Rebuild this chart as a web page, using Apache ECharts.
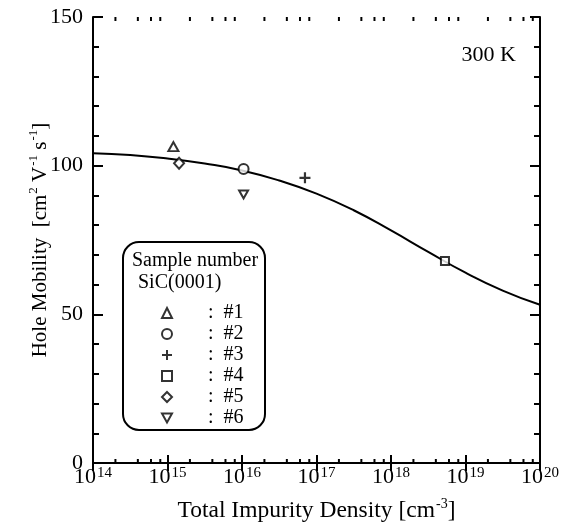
<!DOCTYPE html>
<html>
<head>
<meta charset="utf-8">
<script src="https://cdn.jsdelivr.net/npm/echarts@6/dist/echarts.min.js"></script>
<style>
html,body{margin:0;padding:0;background:#fff;}
#chart{width:564px;height:529px;}
</style>
</head>
<body>
<div id="chart"></div>
<script>
// ---- data ----
const X_MIN = 1e14, X_MAX = 1e20;
const Y_MIN = 0, Y_MAX = 150, Y_INTERVAL = 50;
const MINOR_MULTS = [2, 4, 6, 8];
const DECADES = [1e14, 1e15, 1e16, 1e17, 1e18, 1e19];

const SAMPLE_NAMES = ['#1', '#2', '#3', '#4', '#5', '#6'];
const SAMPLE_DENSITY = [1.2e15, 1.05e16, 7.0e16, 5.3e18, 1.43e15, 1.05e16];
const SAMPLE_MOBILITY = [106.4, 98.9, 95.9, 67.9, 100.8, 90.3];

const CURVE_DENSITY = [1e14, 3.16e14, 1e15, 3.16e15, 1e16, 3.16e16, 1e17, 3.16e17, 1e18, 3.16e18, 1e19, 3.16e19, 1e20];
const CURVE_MOBILITY = [104.2, 103.6, 102.4, 100.7, 98.4, 95.0, 90.6, 85.0, 78.2, 71.0, 64.0, 58.0, 53.2];

const TEMP_LABEL = '300 K';
const LEGEND_TITLE_1 = 'Sample number';
const LEGEND_TITLE_2 = 'SiC(0001)';

// ---- styles ----
const FONT = '"Liberation Serif", "Times New Roman", serif';
const SYMBOLS = [
  {symbol: 'triangle', size: [10, 9], filled: false},
  {symbol: 'circle', size: 10, filled: false},
  {symbol: 'path://M4,0L6,0L6,4L10,4L10,6L6,6L6,10L4,10L4,6L0,6L0,4L4,4Z', size: 11, filled: true},
  {symbol: 'rect', size: 8, filled: false},
  {symbol: 'diamond', size: [10, 11], filled: false},
  {symbol: 'path://M0,0L10,0L5,9Z', size: [9, 8], filled: false}
];

function styleFor(i) {
  return SYMBOLS[i].filled
    ? {color: '#000', borderWidth: 0}
    : {color: '#fff', borderColor: '#000', borderWidth: 2};
}

const labelRich = {
  b: {fontFamily: FONT, fontSize: 22, color: '#000', lineHeight: 22, verticalAlign: 'bottom'},
  s: {fontFamily: FONT, fontSize: 15, color: '#000', lineHeight: 22, verticalAlign: 'top', padding: [0, 0, 0, 1]}
};
const xNameRich = {
  b: {fontFamily: FONT, fontSize: 23.5, color: '#000', lineHeight: 26, verticalAlign: 'bottom'},
  s: {fontFamily: FONT, fontSize: 14, color: '#000', lineHeight: 26, verticalAlign: 'top', padding: [0, 0, 0, 1]}
};
const yNameRich = {
  b: {fontFamily: FONT, fontSize: 21, color: '#000', lineHeight: 24, verticalAlign: 'bottom'},
  s: {fontFamily: FONT, fontSize: 13, color: '#000', lineHeight: 24, verticalAlign: 'top', padding: [0, 0, 0, 1]}
};

const minorTickData = [];
DECADES.forEach(d => MINOR_MULTS.forEach(m => minorTickData.push([m * d, Y_MIN])));

const scatterSeries = SAMPLE_NAMES.map((name, i) => ({
  name: name,
  type: 'scatter',
  data: [[SAMPLE_DENSITY[i], SAMPLE_MOBILITY[i]]],
  symbol: SYMBOLS[i].symbol,
  symbolSize: SYMBOLS[i].size,
  z: 5,
  itemStyle: styleFor(i),
  emphasis: {disabled: true}
}));

const chart = echarts.init(document.getElementById('chart'));
const tickStyle = {color: '#000', width: 2};
const option = {
  backgroundColor: '#fff',
  animation: false,
  grid: {left: 93, right: 24, top: 17, bottom: 66, containLabel: false},
  xAxis: [
    {
      type: 'log', logBase: 10, min: X_MIN, max: X_MAX, interval: 1, position: 'bottom',
      axisLine: {show: true, lineStyle: {color: '#000', width: 2}},
      axisTick: {show: true, inside: true, length: 8, lineStyle: tickStyle},
      splitLine: {show: false},
      axisLabel: {
        margin: 3,
        formatter: v => '{b|10}{s|' + Math.round(Math.log10(v)) + '}',
        rich: labelRich
      },
      name: '{b|Total Impurity Density [cm}{s|-3}{b|]}',
      nameLocation: 'middle', nameGap: 34, nameMoveOverlap: false,
      nameTextStyle: {rich: xNameRich}
    },
    {
      type: 'log', logBase: 10, min: X_MIN, max: X_MAX, interval: 1, position: 'top',
      axisLine: {show: true, lineStyle: {color: '#000', width: 2}},
      axisTick: {show: true, inside: true, length: 8, lineStyle: tickStyle},
      splitLine: {show: false},
      axisLabel: {show: false}
    }
  ],
  yAxis: [
    {
      type: 'value', min: Y_MIN, max: Y_MAX, interval: Y_INTERVAL, position: 'left',
      axisLine: {show: true, lineStyle: {color: '#000', width: 2}},
      axisTick: {show: true, inside: true, length: 10, lineStyle: tickStyle},
      minorTick: {show: true, splitNumber: 5, length: 6, lineStyle: tickStyle},
      splitLine: {show: false},
      axisLabel: {margin: 10, fontFamily: FONT, fontSize: 22, color: '#000'},
      name: '{b|Hole Mobility  [cm}{s|2}{b| V}{s|-1}{b| s}{s|-1}{b|]}',
      nameLocation: 'middle', nameRotate: 90, nameGap: 42, nameMoveOverlap: false,
      nameTextStyle: {rich: yNameRich}
    },
    {
      type: 'value', min: Y_MIN, max: Y_MAX, interval: Y_INTERVAL, position: 'right',
      axisLine: {show: true, lineStyle: {color: '#000', width: 2}},
      axisTick: {show: true, inside: true, length: 10, lineStyle: tickStyle},
      minorTick: {show: true, splitNumber: 5, length: 6, lineStyle: tickStyle},
      splitLine: {show: false},
      axisLabel: {show: false}
    }
  ],
  legend: {
    orient: 'vertical',
    left: 156, top: 298,
    itemWidth: 10, itemHeight: 10, itemGap: 1,
    data: SAMPLE_NAMES.map((n, i) => ({name: n, itemStyle: styleFor(i)})),
    formatter: name => ':  ' + name,
    textStyle: {fontFamily: FONT, fontSize: 20, color: '#000', padding: [0, 0, 0, 31]},
    selectedMode: false,
    z: 10
  },
  graphic: [
    {
      type: 'rect', z: 1,
      shape: {x: 123, y: 242, width: 142, height: 188, r: 16},
      style: {fill: '#fff', stroke: '#000', lineWidth: 2}
    },
    {
      type: 'text', z: 2, left: 132, top: 251,
      style: {text: LEGEND_TITLE_1, font: '20px ' + FONT, fill: '#000'}
    },
    {
      type: 'text', z: 2, left: 138, top: 273,
      style: {text: LEGEND_TITLE_2, font: '20px ' + FONT, fill: '#000'}
    },
    {
      type: 'text', z: 2, right: 48, top: 44,
      style: {text: TEMP_LABEL, font: '22px ' + FONT, fill: '#000'}
    }
  ],
  series: [
    {
      name: 'fit', type: 'line', smooth: true, symbol: 'none',
      data: CURVE_DENSITY.map((d, i) => [d, CURVE_MOBILITY[i]]),
      lineStyle: {color: '#000', width: 2}, z: 3, silent: true
    },
    {
      name: 'minorTicks', type: 'custom', silent: true, clip: false, z: 4,
      data: minorTickData,
      renderItem: function (params, api) {
        const v = api.value(0);
        const pb = api.coord([v, Y_MIN]);
        const pt = api.coord([v, Y_MAX]);
        return {
          type: 'group',
          children: [
            {type: 'line', shape: {x1: pb[0], y1: pb[1], x2: pb[0], y2: pb[1] - 4}, style: {stroke: '#000', lineWidth: 2}},
            {type: 'line', shape: {x1: pt[0], y1: pt[1], x2: pt[0], y2: pt[1] + 4}, style: {stroke: '#000', lineWidth: 2}}
          ]
        };
      }
    }
  ].concat(scatterSeries)
};
chart.setOption(option);
</script>
</body>
</html>
